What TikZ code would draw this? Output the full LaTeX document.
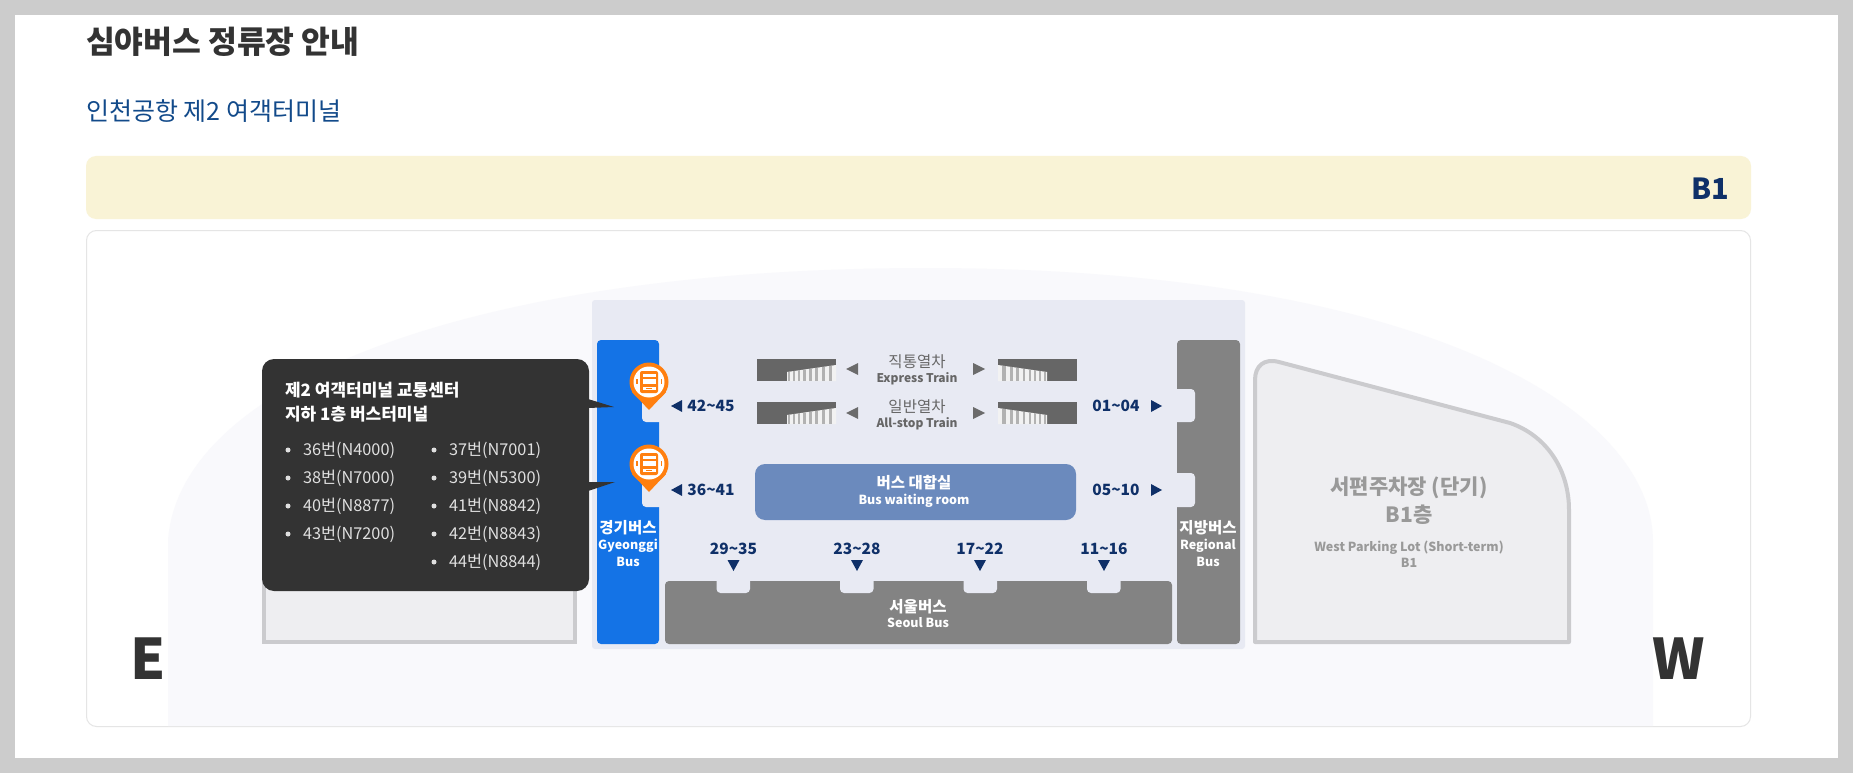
\documentclass[tikz,border=0pt]{standalone}
\usepackage{fontspec}
\setmainfont{Noto Sans CJK KR}
\usepackage{xcolor}
\usetikzlibrary{positioning, calc}

\definecolor{pagegrey}{HTML}{CCCCCC}
\definecolor{barcream}{HTML}{F9F3D6}
\definecolor{softbg}{HTML}{F9F9FC}
\definecolor{panelblue}{HTML}{E8EAF3}
\definecolor{busblue}{HTML}{1473E6}
\definecolor{busgrey}{HTML}{838383}
\definecolor{roomblue}{HTML}{6B8ABD}
\definecolor{navytext}{HTML}{0F3068}
\definecolor{subblue}{HTML}{124A8A}
\definecolor{calloutdark}{HTML}{333333}
\definecolor{pinorange}{HTML}{FF7F0F}
\definecolor{parkfill}{HTML}{EEEEF1}
\definecolor{parkline}{HTML}{CBCBCE}

\begin{document}
\begin{tikzpicture}[
  x=1pt, y=-1pt,
  every node/.style={inner sep=0pt, outer sep=0pt},
  heading/.style={font=\fontsize{31.3}{34}\selectfont\bfseries, text=calloutdark, anchor=west},
  subheading/.style={font=\fontsize{25}{28}\selectfont, text=subblue, anchor=west},
  compass/.style={font=\fontsize{56}{60}\selectfont\bfseries, text=calloutdark},
  korlabel/.style={font=\fontsize{15.5}{18}\selectfont\bfseries, text=white},
  englabel/.style={font=\fontsize{12.5}{15}\selectfont\bfseries, text=white},
  trainkor/.style={font=\fontsize{15.5}{18}\selectfont, text=black!60},
  traineng/.style={font=\fontsize{12}{14}\selectfont\bfseries, text=black!60},
  standno/.style={font=\fontsize{15.5}{18}\selectfont\bfseries, text=navytext},
  parkkor/.style={font=\fontsize{21}{24}\selectfont\bfseries, text=black!40},
  parkeng/.style={font=\fontsize{12.5}{15}\selectfont\bfseries, text=black!40},
  callhead/.style={font=\fontsize{17}{20}\selectfont\bfseries, text=white, anchor=west},
  busitem/.style={font=\fontsize{16.3}{19}\selectfont, text=black!12, anchor=west,
    label={[circle, fill=black!12, minimum size=5pt, label distance=12.5pt]left:{}}},
  notch/.style={fill=panelblue, rounded corners=4pt},
  navytip/.style={fill=navytext},
  greytip/.style={fill=black!58},
  trainstair/.pic={
    \fill[black!60] (0,0) rectangle (79,22);
    \fill[black!5] (30,22) -- (30,13) -- (79,6) -- (79,22) -- cycle;
    \foreach \sx/\sy/\sw in {31/12.8/2, 36/12.1/2, 41/11.4/2, 46/10.7/2.5, 52/9.9/2.5, 58/9/3, 64.5/8.1/3, 71.5/7.1/3.5}
      \fill[black!30] (\sx,\sy) rectangle (\sx+\sw,22);
  },
  buspin/.pic={
    \fill[pinorange] (-17,10) -- (0,28) -- (17,10) -- cycle;
    \fill[pinorange] (0,0) circle (19.5);
    \fill[white] (0,0) circle (15.5);
    \fill[pinorange, rounded corners=2pt] (-9,-11) rectangle (9,11);
    \fill[white] (-6.5,-8) rectangle (6.5,-5.5);
    \fill[white] (-6.5,-3.5) rectangle (6.5,2);
    \fill[white] (-6.5,4.5) rectangle (6.5,8);
    \fill[pinorange] (-3,5.5) rectangle (3,7);
    \fill[pinorange] (-13,-3) rectangle (-11.5,2);
    \fill[pinorange] (11.5,-3) rectangle (13,2);
  }
]
\useasboundingbox (0,0) rectangle (1853,773);

% page
\fill[pagegrey] (0,0) rectangle (1853,773);
\fill[white] (15,15) rectangle (1838,758);
\node (title) [heading] at (86,42) {심야버스 정류장 안내};
\node (terminal) [subheading] at (86,111) {인천공항 제2 여객터미널};
\fill[barcream, rounded corners=10pt] (86,156) rectangle (1751,219);
\node (floor) [font=\fontsize{29}{32}\selectfont\bfseries, text=navytext, anchor=east] at (1729,189) {B1};
\draw[black!10, line width=1pt, rounded corners=10pt] (86.5,230.5) rectangle (1750.5,726.5);

% site outline
\fill[softbg] (168,726) -- (168,540) .. controls (180,380) and (480,268) .. (926,268)
  .. controls (1400,268) and (1650,400) .. (1653,540) -- (1653,726) -- cycle;
\node (east) [compass] at (148,659) {E};
\node (west) [compass] at (1679,659) {W};

% parking
\draw[parkline, fill=parkfill, line width=4pt] (264,520) -- (264,642) -- (575,642) -- (575,520);
\draw[parkline, fill=parkfill, line width=4pt, line join=round] (1255,642) -- (1255,380)
  .. controls (1255,366) and (1264,358) .. (1279,362) -- (1510,423)
  .. controls (1545,435) and (1569,468) .. (1569,510) -- (1569,642) -- cycle;
\node (parkA) [parkkor] at (1409,488) {서편주차장 (단기)};
\node (parkB) [parkkor] at (1409,515) {B1층};
\node (parkC) [parkeng] at (1409,548) {West Parking Lot (Short-term)};
\node (parkD) [parkeng] at (1409,563) {B1};

% concourse
\fill[panelblue, rounded corners=3pt] (592,300) rectangle (1245,649);
\fill[busblue, rounded corners=4pt] (597,340) rectangle (659,644);
\fill[busgrey, rounded corners=4pt] (1177,340) rectangle (1240,644);
\fill[busgrey, rounded corners=4pt] (665,581) rectangle (1172,644);
\fill[notch] (642,389) rectangle (670,422);
\fill[notch] (642,473) rectangle (670,507);
\fill[notch] (1165,389) rectangle (1195,422);
\fill[notch] (1165,473) rectangle (1195,507);
\fill[notch] (716.5,570) rectangle (750,593);
\fill[notch] (840,570) rectangle (873.5,593);
\fill[notch] (963.5,570) rectangle (997,593);
\fill[notch] (1087,570) rectangle (1120.5,593);
\fill[roomblue, rounded corners=10pt] (755,464) rectangle (1076,520);

\node (gyeonggiK) [korlabel] at (628,528) {경기버스};
\node (gyeonggiE) [englabel] at (628,546) {Gyeonggi};
\node (gyeonggiB) [englabel] at (628,562) {Bus};
\node (regionalK) [korlabel] at (1208,528) {지방버스};
\node (regionalE) [englabel] at (1208,546) {Regional};
\node (regionalB) [englabel] at (1208,562) {Bus};
\node (seoulK) [korlabel] at (918,607) {서울버스};
\node (seoulE) [englabel] at (918,623) {Seoul Bus};
\node (roomK) [korlabel] at (914,483) {버스 대합실};
\node (roomE) [englabel] at (914,501) {Bus waiting room};

% trains
\pic at (757,359) {trainstair};
\pic at (757,402) {trainstair};
\pic[xscale=-1] at (1077,359) {trainstair};
\pic[xscale=-1] at (1077,402) {trainstair};
\fill[greytip] (846,369) -- (858,363) -- (858,375) -- cycle;
\fill[greytip] (846,413) -- (858,407) -- (858,419) -- cycle;
\fill[greytip] (985,369) -- (973,363) -- (973,375) -- cycle;
\fill[greytip] (985,413) -- (973,407) -- (973,419) -- cycle;
\node (expressK) [trainkor] at (917,362) {직통열차};
\node (expressE) [traineng] at (917,379) {Express Train};
\node (allstopK) [trainkor] at (917,407) {일반열차};
\node (allstopE) [traineng] at (917,424) {All-stop Train};

% stand numbers
\node (st42) [standno] at (711,406) {42\textasciitilde45};
\node (st36) [standno] at (711,490) {36\textasciitilde41};
\node (st01) [standno] at (1116,406) {01\textasciitilde04};
\node (st05) [standno] at (1116,490) {05\textasciitilde10};
\node (st29) [standno] at (733.5,549) {29\textasciitilde35};
\node (st23) [standno] at (857,549) {23\textasciitilde28};
\node (st17) [standno] at (980,549) {17\textasciitilde22};
\node (st11) [standno] at (1104,549) {11\textasciitilde16};
\fill[navytip] (671,406) -- (682,400) -- (682,412) -- cycle;
\fill[navytip] (671,490) -- (682,484) -- (682,496) -- cycle;
\fill[navytip] (1162,406) -- (1151,400) -- (1151,412) -- cycle;
\fill[navytip] (1162,490) -- (1151,484) -- (1151,496) -- cycle;
\fill[navytip] (727.5,560) -- (739.5,560) -- (733.5,571) -- cycle;
\fill[navytip] (851,560) -- (863,560) -- (857,571) -- cycle;
\fill[navytip] (974,560) -- (986,560) -- (980,571) -- cycle;
\fill[navytip] (1098,560) -- (1110,560) -- (1104,571) -- cycle;

% pins
\pic at (649,382) {buspin};
\pic at (649,464) {buspin};

% callout
\fill[calloutdark, rounded corners=12pt] (262,359) rectangle (589,591);
\fill[calloutdark] (588,399) -- (614,407) -- (588,408) -- cycle;
\fill[calloutdark] (588,482) -- (615,482) -- (588,491) -- cycle;
\node (callA) [callhead] at (285,390) {제2 여객터미널 교통센터};
\node (callB) [callhead] at (285,414) {지하 1층 버스터미널};
\node (bus36) [busitem] at (303,450) {36번(N4000)};
\node (bus38) [busitem] at (303,478) {38번(N7000)};
\node (bus40) [busitem] at (303,506) {40번(N8877)};
\node (bus43) [busitem] at (303,534) {43번(N7200)};
\node (bus37) [busitem] at (449,450) {37번(N7001)};
\node (bus39) [busitem] at (449,478) {39번(N5300)};
\node (bus41) [busitem] at (449,506) {41번(N8842)};
\node (bus42) [busitem] at (449,534) {42번(N8843)};
\node (bus44) [busitem] at (449,562) {44번(N8844)};
\end{tikzpicture}
\end{document}
